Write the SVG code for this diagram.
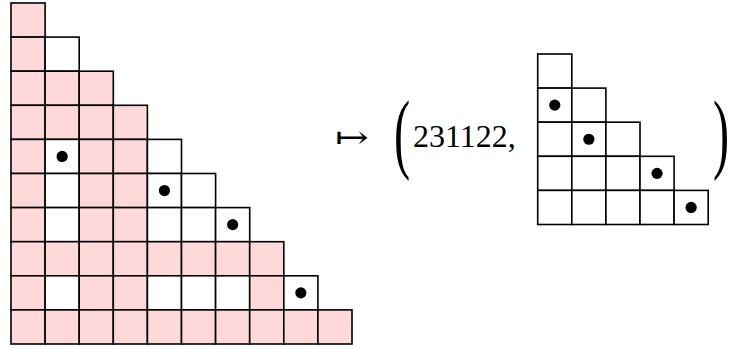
<svg xmlns="http://www.w3.org/2000/svg" width="729" height="349" viewBox="0 0 729 349">
<style>
.c{stroke:#000;stroke-width:1.6;stroke-linejoin:miter}
.p{fill:#ffd9d9}
.w{fill:#fff}
.d{fill:#000}
.t{font-family:"Liberation Serif","Times New Roman",serif;fill:#000}
</style>
<rect width="729" height="349" fill="#fff"/>
<g id="left-diagram">
<!-- row 1 -->
<rect class="c p" x="11" y="3" width="34.1" height="34.1"/>
<!-- row 2 -->
<rect class="c p" x="11" y="37.1" width="34.1" height="34.1"/>
<rect class="c w" x="45.1" y="37.1" width="34.1" height="34.1"/>
<!-- row 3 -->
<rect class="c p" x="11" y="71.2" width="34.1" height="34.1"/>
<rect class="c p" x="45.1" y="71.2" width="34.1" height="34.1"/>
<rect class="c p" x="79.2" y="71.2" width="34.1" height="34.1"/>
<!-- row 4 -->
<rect class="c p" x="11" y="105.3" width="34.1" height="34.1"/>
<rect class="c p" x="45.1" y="105.3" width="34.1" height="34.1"/>
<rect class="c p" x="79.2" y="105.3" width="34.1" height="34.1"/>
<rect class="c p" x="113.3" y="105.3" width="34.1" height="34.1"/>
<!-- row 5 -->
<rect class="c p" x="11" y="139.4" width="34.1" height="34.1"/>
<rect class="c w" x="45.1" y="139.4" width="34.1" height="34.1"/>
<rect class="c p" x="79.2" y="139.4" width="34.1" height="34.1"/>
<rect class="c p" x="113.3" y="139.4" width="34.1" height="34.1"/>
<rect class="c w" x="147.4" y="139.4" width="34.1" height="34.1"/>
<!-- row 6 -->
<rect class="c p" x="11" y="173.5" width="34.1" height="34.1"/>
<rect class="c w" x="45.1" y="173.5" width="34.1" height="34.1"/>
<rect class="c p" x="79.2" y="173.5" width="34.1" height="34.1"/>
<rect class="c p" x="113.3" y="173.5" width="34.1" height="34.1"/>
<rect class="c w" x="147.4" y="173.5" width="34.1" height="34.1"/>
<rect class="c w" x="181.5" y="173.5" width="34.1" height="34.1"/>
<!-- row 7 -->
<rect class="c p" x="11" y="207.6" width="34.1" height="34.1"/>
<rect class="c w" x="45.1" y="207.6" width="34.1" height="34.1"/>
<rect class="c p" x="79.2" y="207.6" width="34.1" height="34.1"/>
<rect class="c p" x="113.3" y="207.6" width="34.1" height="34.1"/>
<rect class="c w" x="147.4" y="207.6" width="34.1" height="34.1"/>
<rect class="c w" x="181.5" y="207.6" width="34.1" height="34.1"/>
<rect class="c w" x="215.6" y="207.6" width="34.1" height="34.1"/>
<!-- row 8 -->
<rect class="c p" x="11" y="241.7" width="34.1" height="34.1"/>
<rect class="c p" x="45.1" y="241.7" width="34.1" height="34.1"/>
<rect class="c p" x="79.2" y="241.7" width="34.1" height="34.1"/>
<rect class="c p" x="113.3" y="241.7" width="34.1" height="34.1"/>
<rect class="c p" x="147.4" y="241.7" width="34.1" height="34.1"/>
<rect class="c p" x="181.5" y="241.7" width="34.1" height="34.1"/>
<rect class="c p" x="215.6" y="241.7" width="34.1" height="34.1"/>
<rect class="c p" x="249.7" y="241.7" width="34.1" height="34.1"/>
<!-- row 9 -->
<rect class="c p" x="11" y="275.8" width="34.1" height="34.1"/>
<rect class="c w" x="45.1" y="275.8" width="34.1" height="34.1"/>
<rect class="c p" x="79.2" y="275.8" width="34.1" height="34.1"/>
<rect class="c p" x="113.3" y="275.8" width="34.1" height="34.1"/>
<rect class="c w" x="147.4" y="275.8" width="34.1" height="34.1"/>
<rect class="c w" x="181.5" y="275.8" width="34.1" height="34.1"/>
<rect class="c w" x="215.6" y="275.8" width="34.1" height="34.1"/>
<rect class="c p" x="249.7" y="275.8" width="34.1" height="34.1"/>
<rect class="c w" x="283.8" y="275.8" width="34.1" height="34.1"/>
<!-- row 10 -->
<rect class="c p" x="11" y="309.9" width="34.1" height="34.1"/>
<rect class="c p" x="45.1" y="309.9" width="34.1" height="34.1"/>
<rect class="c p" x="79.2" y="309.9" width="34.1" height="34.1"/>
<rect class="c p" x="113.3" y="309.9" width="34.1" height="34.1"/>
<rect class="c p" x="147.4" y="309.9" width="34.1" height="34.1"/>
<rect class="c p" x="181.5" y="309.9" width="34.1" height="34.1"/>
<rect class="c p" x="215.6" y="309.9" width="34.1" height="34.1"/>
<rect class="c p" x="249.7" y="309.9" width="34.1" height="34.1"/>
<rect class="c p" x="283.8" y="309.9" width="34.1" height="34.1"/>
<rect class="c p" x="317.9" y="309.9" width="34.1" height="34.1"/>
<!-- dots -->
<circle class="d" cx="62.15" cy="156.45" r="5.6"/>
<circle class="d" cx="164.45" cy="190.55" r="5.6"/>
<circle class="d" cx="232.65" cy="224.65" r="5.6"/>
<circle class="d" cx="300.85" cy="292.85" r="5.6"/>
</g>
<g id="mapsto">
<text transform="translate(335,148) scale(1.25,1)" style="font-family:'DejaVu Serif','DejaVu Sans',serif;font-size:32px;fill:#000">↦</text>
</g>
<g id="tuple">
<text class="t" transform="translate(394,162) scale(0.55,1)" style="font-size:88px">(</text>
<text class="t" x="413" y="147" style="font-size:32px">231122,</text>
<text class="t" transform="translate(713,162) scale(0.55,1)" style="font-size:88px">)</text>
</g>
<g id="right-diagram">
<rect class="c w" x="537.7" y="54" width="34.1" height="34.1"/>
<rect class="c w" x="537.7" y="88.1" width="34.1" height="34.1"/>
<rect class="c w" x="571.8" y="88.1" width="34.1" height="34.1"/>
<rect class="c w" x="537.7" y="122.2" width="34.1" height="34.1"/>
<rect class="c w" x="571.8" y="122.2" width="34.1" height="34.1"/>
<rect class="c w" x="605.9" y="122.2" width="34.1" height="34.1"/>
<rect class="c w" x="537.7" y="156.3" width="34.1" height="34.1"/>
<rect class="c w" x="571.8" y="156.3" width="34.1" height="34.1"/>
<rect class="c w" x="605.9" y="156.3" width="34.1" height="34.1"/>
<rect class="c w" x="640" y="156.3" width="34.1" height="34.1"/>
<rect class="c w" x="537.7" y="190.4" width="34.1" height="34.1"/>
<rect class="c w" x="571.8" y="190.4" width="34.1" height="34.1"/>
<rect class="c w" x="605.9" y="190.4" width="34.1" height="34.1"/>
<rect class="c w" x="640" y="190.4" width="34.1" height="34.1"/>
<rect class="c w" x="674.1" y="190.4" width="34.1" height="34.1"/>
<circle class="d" cx="554.75" cy="105.15" r="5.6"/>
<circle class="d" cx="588.85" cy="139.25" r="5.6"/>
<circle class="d" cx="657.05" cy="173.35" r="5.6"/>
<circle class="d" cx="691.15" cy="207.45" r="5.6"/>
</g>
</svg>
